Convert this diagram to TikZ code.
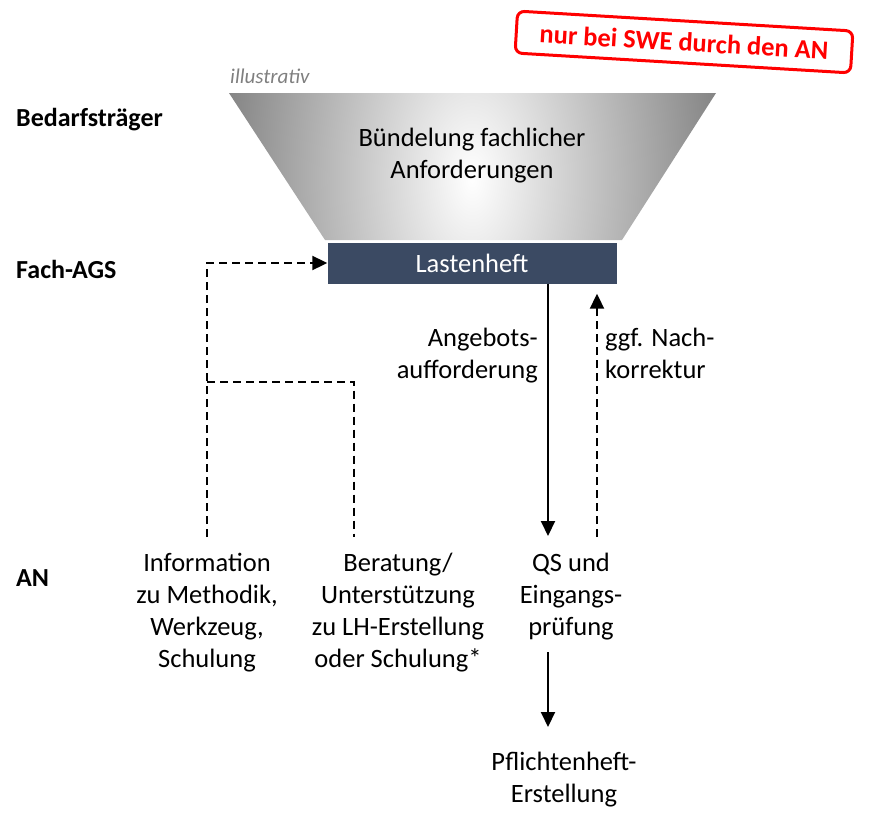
\documentclass[tikz,border=0pt]{standalone}
\usepackage{fontspec}
\setmainfont{Carlito}
\usetikzlibrary{arrows.meta}
\definecolor{lhblue}{RGB}{59,74,99}
\definecolor{stampred}{RGB}{255,0,0}
\definecolor{notegray}{RGB}{127,127,127}
\begin{document}
\begin{tikzpicture}[x=1pt,y=1pt,
  txt/.style={font=\fontsize{26.5}{32}\selectfont, inner sep=0pt, align=center, anchor=base},
  rowlabel/.style={font=\fontsize{26}{32}\selectfont\bfseries, inner sep=0pt, anchor=base west},
  flow/.style={line width=2pt, -{Triangle[length=15pt,width=14pt]}},
  dashflow/.style={flow, dash pattern=on 8pt off 5pt},
  dashline/.style={line width=2pt, dash pattern=on 8pt off 5pt}]
\useasboundingbox (0,0) rectangle (874,-816);

% stamp
\node[draw=stampred, line width=3pt, rounded corners=7pt, rotate=-3.4,
      minimum width=336pt, minimum height=42pt, inner sep=0pt,
      text=stampred, font=\fontsize{26.5}{32}\selectfont\bfseries] (stamp) at (684,-42)
      {nur bei SWE durch den AN};

% funnel with radial shading
\begin{scope}
  \clip (229,-93) -- (716,-93) -- (622,-240) -- (325,-240) -- cycle;
  \shade[inner color=white, outer color=black!58] (472,-178) ellipse [x radius=300, y radius=520];
\end{scope}
\node[font=\fontsize{21}{25}\selectfont\itshape, text=notegray, inner sep=0pt, anchor=base west] (note) at (230,-83) {illustrativ};
% multi-line nodes sit on the baseline of their last line
\node[txt] (bundle) at (472,-178) {Bündelung fachlicher\\Anforderungen};

% Lastenheft
\node[fill=lhblue, minimum width=289pt, minimum height=41pt, inner sep=0pt,
      text=white, font=\fontsize{26.5}{32}\selectfont] (lh) at (472,-263) {Lastenheft};

% row labels
\node[rowlabel] (r1) at (16,-126) {Bedarfsträger};
\node[rowlabel] (r2) at (16,-278) {Fach-AGS};
\node[rowlabel] (r3) at (16,-586) {AN};

% AN columns
\node[txt] (info) at (207,-667) {Information\\zu Methodik,\\Werkzeug,\\Schulung};
\node[txt] (berat) at (398,-667) {Beratung/\\Unterstützung\\zu LH-Erstellung\\oder Schulung*};
\node[txt] (qs) at (571,-635) {QS und\\Eingangs-\\prüfung};
\node[txt] (pf) at (564,-802) {Pflichtenheft-\\Erstellung};

% connector end points
\coordinate (infoTop) at (207,-537);
\coordinate (fork) at (207,-381.5);
\coordinate (beratTop) at (354,-537);
\coordinate (qsIn) at (548,-536);
\coordinate (qsOut) at (597,-537);
\coordinate (qsBottom) at (548,-652);
\coordinate (pfTop) at (548,-727);

\draw[dashflow] (infoTop) |- (lh.west);
\draw[dashline] (fork) -| (beratTop);
\draw[flow] (lh.south -| qsIn) -- (qsIn);
\draw[dashflow] (qsOut) -- ([yshift=-10pt]lh.south -| qsOut);
\draw[flow] (qsBottom) -- (pfTop);

% arrow labels
\node[font=\fontsize{26.5}{32}\selectfont, inner sep=0pt, align=right, anchor=base east] (offer) at (538,-378) {Angebots-\\aufforderung};
\node[font=\fontsize{26.5}{32}\selectfont, inner sep=0pt, align=left, anchor=base west] (fix) at (605,-378) {ggf. Nach-\\korrektur};
\end{tikzpicture}
\end{document}
